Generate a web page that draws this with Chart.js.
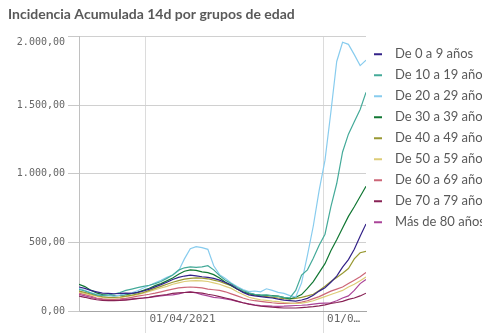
<!DOCTYPE html>
<html>
<head>
<meta charset="utf-8">
<script src="https://cdn.jsdelivr.net/npm/chart.js@4.4.0/dist/chart.umd.min.js"></script>
<style>
  html, body { margin: 0; padding: 0; background: #fff; overflow: hidden; }
  #wrap { position: relative; width: 482px; height: 333px; }
</style>
</head>
<body>
<div id="wrap"><canvas id="iaChart"></canvas></div>
<script>
// days since 26/02/2021, one sample every 3 days
var days = [0, 3, 6, 9, 12, 15, 18, 21, 24, 27, 30, 33, 36, 39, 42, 45, 48, 51, 54, 57,
    60, 63, 66, 69, 72, 75, 78, 81, 84, 87, 90, 93, 96, 99, 102, 105, 108, 111, 114, 117,
    120, 123, 126, 129, 132, 135, 138, 141, 144, 147]

var ageGroups = ['De 0 a 9 años', 'De 10 a 19 años', 'De 20 a 29 años', 'De 30 a 39 años',
    'De 40 a 49 años', 'De 50 a 59 años', 'De 60 a 69 años', 'De 70 a 79 años', 'Más de 80 años']

var ia0to9 = [175, 165, 150, 140, 130, 128, 126, 128, 131, 128, 136, 146, 160, 176, 192, 210, 230, 245, 255, 262,
    256, 250, 245, 238, 225, 208, 190, 160, 136, 118, 110, 105, 100, 95, 86, 80, 76, 72, 80, 92,
    115, 145, 170, 210, 255, 320, 375, 450, 545, 635]
var ia10to19 = [158, 146, 130, 118, 114, 118, 124, 135, 150, 160, 170, 180, 188, 200, 215, 238, 262, 298, 315, 322,
    318, 322, 330, 300, 258, 225, 198, 172, 150, 132, 122, 116, 118, 110, 106, 100, 96, 150, 262, 300,
    385, 480, 560, 760, 930, 1160, 1290, 1380, 1470, 1595]
var ia20to29 = [166, 150, 135, 120, 112, 113, 108, 116, 124, 132, 148, 168, 186, 206, 224, 246, 262, 292, 380, 455,
    470, 462, 450, 330, 265, 238, 205, 178, 156, 142, 146, 140, 162, 150, 136, 128, 112, 102, 205, 405,
    620, 880, 1100, 1450, 1820, 1960, 1945, 1870, 1790, 1830]
var ia30to39 = [195, 178, 152, 132, 120, 115, 112, 114, 120, 126, 136, 150, 166, 185, 200, 220, 240, 268, 290, 300,
    296, 285, 280, 265, 240, 210, 185, 160, 140, 128, 120, 116, 114, 112, 108, 98, 88, 100, 120, 165,
    215, 280, 345, 440, 520, 605, 690, 760, 835, 910]
var ia40to49 = [145, 136, 124, 114, 105, 100, 100, 102, 108, 115, 125, 135, 150, 165, 180, 195, 210, 222, 232, 238,
    242, 240, 235, 225, 215, 200, 185, 160, 140, 125, 116, 110, 105, 100, 95, 90, 88, 92, 100, 110,
    122, 150, 180, 215, 245, 275, 310, 380, 425, 435]
var ia50to59 = [138, 128, 118, 108, 100, 95, 95, 98, 105, 112, 120, 130, 142, 155, 168, 180, 195, 205, 215, 220,
    222, 220, 215, 205, 195, 180, 165, 140, 120, 100, 90, 82, 78, 72, 68, 62, 58, 55, 58, 65,
    75, 90, 105, 120, 135, 150, 175, 195, 220, 248]
var ia60to69 = [130, 120, 108, 95, 88, 85, 85, 88, 92, 100, 108, 115, 122, 130, 140, 150, 160, 168, 172, 175,
    172, 168, 160, 155, 150, 140, 125, 110, 95, 82, 75, 70, 65, 60, 56, 55, 55, 58, 65, 75,
    90, 105, 125, 145, 160, 175, 200, 225, 250, 280]
var ia70to79 = [108, 100, 90, 82, 78, 76, 75, 78, 80, 85, 90, 95, 100, 108, 115, 120, 128, 132, 135, 138,
    135, 130, 122, 115, 105, 95, 85, 72, 60, 50, 42, 36, 32, 28, 25, 22, 22, 22, 25, 28,
    32, 38, 45, 55, 62, 70, 85, 95, 110, 130]
var ia80plus = [122, 110, 100, 90, 85, 82, 80, 82, 85, 88, 92, 95, 100, 105, 110, 115, 118, 125, 135, 140,
    132, 120, 110, 100, 95, 88, 80, 70, 60, 52, 45, 40, 38, 35, 34, 35, 38, 40, 42, 45,
    50, 55, 58, 60, 75, 95, 110, 150, 200, 230]

var seriesValues = [ia0to9, ia10to19, ia20to29, ia30to39, ia40to49, ia50to59, ia60to69, ia70to79, ia80plus]

var tickDays = [34, 125]
var tickLabels = ['01/04/2021', '01/0…']

var lineColors = ['#332288', '#44aa99', '#88ccee', '#117733', '#999933', '#ddcc77', '#cc6677', '#882255', '#aa4499']

function formatEs(v) {
    var parts = v.toFixed(2).split('.')
    return parts[0].replace(/\B(?=(\d{3})+(?!\d))/g, '.') + ',' + parts[1]
}

// fix the legend column width so the plot ends where the original does
var legendWidthPlugin = {
    id: 'legendWidth',
    beforeLayout: function (chart) {
        var lg = chart.legend
        if (lg && !lg._patched) {
            var fit = lg.fit
            lg.fit = function () {
                fit.call(this)
                this.width = 116
            }
            lg._patched = true
        }
    }
}

var datasets = ageGroups.map(function (name, i) {
    return {
        label: name,
        data: seriesValues[i],
        borderColor: lineColors[i],
        backgroundColor: lineColors[i],
        borderWidth: 1.2,
        pointRadius: 0,
        tension: 0
    }
})

var tickFont = { family: 'DejaVu Sans Mono', size: 10 }

new Chart(document.getElementById('iaChart'), {
    type: 'line',
    data: {
        labels: days,
        datasets: datasets
    },
    options: {
        responsive: true,
        maintainAspectRatio: false,
        animation: false,
        layout: { padding: { left: 8, top: 0, right: 0, bottom: 0 } },
        plugins: {
            title: {
                display: true,
                text: 'Incidencia Acumulada 14d por grupos de edad',
                align: 'start',
                color: '#595959',
                font: { family: 'Lato', size: 14, weight: 'bold' },
                padding: { top: 6, bottom: 14 }
            },
            legend: {
                position: 'right',
                align: 'start',
                fullSize: false,
                title: { display: true, text: '', padding: 0, font: { size: 2.5 } },
                labels: {
                    color: '#595959',
                    font: { family: 'Lato', size: 13 },
                    boxWidth: 8,
                    boxHeight: 2,
                    padding: 8,
                    generateLabels: function (chart) {
                        var items = Chart.defaults.plugins.legend.labels.generateLabels(chart)
                        items.forEach(function (it) {
                            it.text = '\u2002' + it.text
                            it.lineWidth = 0
                        })
                        return items
                    }
                }
            },
            tooltip: { enabled: false }
        },
        scales: {
            x: {
                type: 'linear',
                min: days[0],
                max: days[days.length - 1],
                afterBuildTicks: function (scale) {
                    scale.ticks = tickDays.map(function (d) { return { value: d } })
                },
                afterFit: function (scale) { scale.height = 22 },
                grid: {
                    color: '#dcdcdc',
                    tickLength: 22,
                    tickColor: '#dcdcdc'
                },
                border: { color: '#a6a6a6' },
                ticks: {
                    autoSkip: false,
                    maxRotation: 0,
                    align: 'start',
                    labelOffset: 4,
                    padding: -20,
                    color: '#666',
                    font: { family: 'DejaVu Sans Mono', size: 11 },
                    callback: function (value) {
                        var k = tickDays.indexOf(value)
                        return k >= 0 ? tickLabels[k] : null
                    }
                }
            },
            y: {
                min: 0,
                max: 2000,
                afterFit: function (scale) { scale.width = 71 },
                grid: {
                    color: '#d0d0d0',
                    tickLength: 11,
                    tickColor: '#c8c8c8'
                },
                border: { color: '#c0c0c0' },
                ticks: {
                    stepSize: 500,
                    padding: 3,
                    color: '#666',
                    font: tickFont,
                    callback: function (value) {
                        return value === 2000 ? ['', formatEs(value)] : formatEs(value)
                    }
                }
            }
        }
    },
    plugins: [legendWidthPlugin]
})
</script>
</body>
</html>
